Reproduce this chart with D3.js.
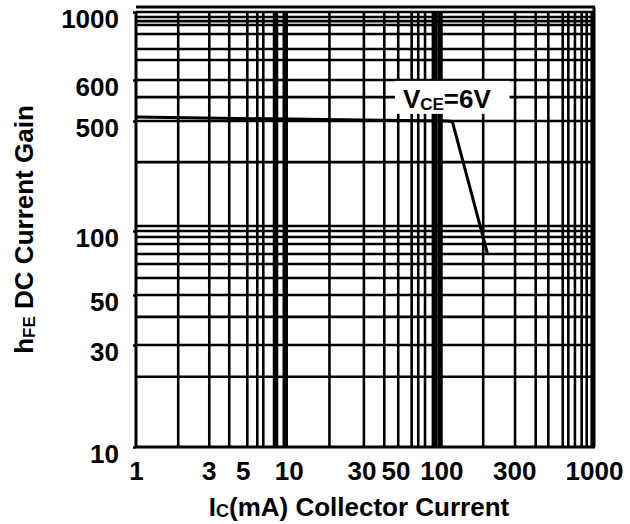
<!DOCTYPE html>
<html>
<head>
<meta charset="utf-8">
<script src="https://cdn.jsdelivr.net/npm/d3@7"></script>
<style>
body { margin: 0; background: #fff; }
svg text { font-family: "Liberation Sans", Arial, sans-serif; font-weight: bold; fill: #000; }
</style>
</head>
<body>
<div id="chart"></div>
<script>
// hFE vs collector current, VCE = 6V
var icValues  = [1, 30, 110, 118, 200];
var hfeValues = [509, 502, 500, 497, 79];

// tick labels as printed on the sheet
var xTicks = [1, 3, 5, 10, 30, 50, 100, 300, 1000];
var yTicks = [10, 30, 50, 100, 500, 600, 1000];

// grid lines as they are drawn (the sheet's grid is not a clean log grid)
var xGrid = [1.89, 3.02, 4.08, 5.36, 6.23, 6.82, 18.5, 31.1, 42.3, 52.2, 63.9, 70.6, 78.2,
             188, 304, 415, 502, 624, 679, 750, 830, 896, 966];
var xGridHeavy = [8.2, 9.5, 90, 98];
var yGrid = [21.3, 30, 40, 50, 60.1, 70, 78, 86.9, 93.7, 100, 107.6,
             274, 500, 556, 600, 697, 757, 848, 907, 934, 963, 1000];
var yTop = 1038; // frame line above the grid

var width = 630, height = 524;

var svg = d3.select("#chart").append("svg")
	.attr("width", width)
	.attr("height", height);

var x = d3.scaleLog()
	.domain([1, 1000])
	.range([136, 594]);

// the printed labels are unevenly spaced, so the scale is piecewise between them
var y = d3.scaleLog()
	.domain(yTicks)
	.range([447, 345, 295, 231, 121, 80, 12]);

var grid = svg.append("g").attr("class", "grid");

grid.selectAll(".hline")
	.data(yGrid)
	.enter().append("line")
	.attr("class", "hline")
	.attr("x1", x(1))
	.attr("x2", x(1000))
	.attr("y1", function(d) { return y(d); })
	.attr("y2", function(d) { return y(d); })
	.style("stroke", "#000")
	.style("stroke-width", 2.6);

grid.selectAll(".vline")
	.data(xGrid)
	.enter().append("line")
	.attr("class", "vline")
	.attr("x1", function(d) { return x(d); })
	.attr("x2", function(d) { return x(d); })
	.attr("y1", y(1000))
	.attr("y2", y(10))
	.style("stroke", "#000")
	.style("stroke-width", 2.6);

grid.selectAll(".vheavy")
	.data(xGridHeavy)
	.enter().append("line")
	.attr("class", "vheavy")
	.attr("x1", function(d) { return x(d); })
	.attr("x2", function(d) { return x(d); })
	.attr("y1", y(1000))
	.attr("y2", y(10))
	.style("stroke", "#000")
	.style("stroke-width", 5.5);

// frame
var frame = svg.append("g").attr("class", "frame")
	.style("stroke", "#000")
	.style("stroke-width", 3)
	.style("fill", "none");
frame.append("line")
	.attr("x1", x(1)).attr("x2", x(1))
	.attr("y1", y(1000)).attr("y2", y(10));
frame.append("line")
	.attr("x1", x(1)).attr("x2", x(1000) + 1)
	.attr("y1", y(10)).attr("y2", y(10));
frame.append("line")
	.attr("x1", x(1000)).attr("x2", x(1000))
	.attr("y1", y(yTop)).attr("y2", y(10));
frame.append("line")
	.attr("x1", x(1)).attr("x2", x(1000) + 1)
	.attr("y1", y(yTop)).attr("y2", y(yTop));

// VCE label with white box behind it
var note = svg.append("g").attr("class", "note");
var noteText = note.append("text")
	.attr("x", x(56))
	.attr("y", y(530))
	.style("font-size", "26px");
noteText.append("tspan").text("V");
noteText.append("tspan").text("CE").style("font-size", "17px").attr("dy", 2);
noteText.append("tspan").text("=6V").attr("dy", -2);
var bb = noteText.node().getBBox();
note.insert("rect", "text")
	.attr("x", bb.x - 8)
	.attr("y", bb.y - 3)
	.attr("width", bb.width + 26)
	.attr("height", bb.height + 3)
	.style("fill", "#fff");

// curve
var curve = icValues.map(function(d, i) { return [d, hfeValues[i]]; });
var line = d3.line()
	.x(function(d) { return x(d[0]); })
	.y(function(d) { return y(d[1]); });

svg.append("path")
	.datum(curve)
	.attr("d", line)
	.style("fill", "none")
	.style("stroke", "#000")
	.style("stroke-width", 3)
	.style("stroke-linejoin", "round");

// axes
var xAxis = svg.append("g")
	.attr("transform", "translate(0," + y(10) + ")")
	.call(d3.axisBottom(x).tickValues(xTicks).tickFormat(d3.format("d")).tickSize(0).tickPadding(15));
xAxis.select(".domain").remove();
xAxis.selectAll("text").style("font-size", "26px").style("font-family", null);

var yAxis = svg.append("g")
	.attr("transform", "translate(" + x(1) + ",0)")
	.call(d3.axisLeft(y).tickValues(yTicks).tickFormat(d3.format("d")).tickSize(3).tickPadding(14));
yAxis.select(".domain").remove();
yAxis.selectAll("line").style("stroke-width", 2.5);
yAxis.selectAll("text").style("font-size", "26px").style("font-family", null).attr("dy", "0.59em");

// titles
var xTitle = svg.append("text")
	.attr("x", (x.range()[0] + x.range()[1]) / 2 - 6)
	.attr("y", 516)
	.attr("text-anchor", "middle")
	.style("font-size", "26px");
xTitle.append("tspan").text("I");
xTitle.append("tspan").text("C").style("font-size", "18px").attr("dy", 1);
xTitle.append("tspan").text("(mA) Collector Current").attr("dy", -1);

var yTitle = svg.append("text")
	.attr("transform", "translate(33," + (y(10) + y(1000)) / 2 + ") rotate(-90)")
	.attr("text-anchor", "middle")
	.style("font-size", "26px");
yTitle.append("tspan").text("h");
yTitle.append("tspan").text("FE").style("font-size", "17px").attr("dy", 2);
yTitle.append("tspan").text(" DC Current Gain").attr("dy", -2);
</script>
</body>
</html>
